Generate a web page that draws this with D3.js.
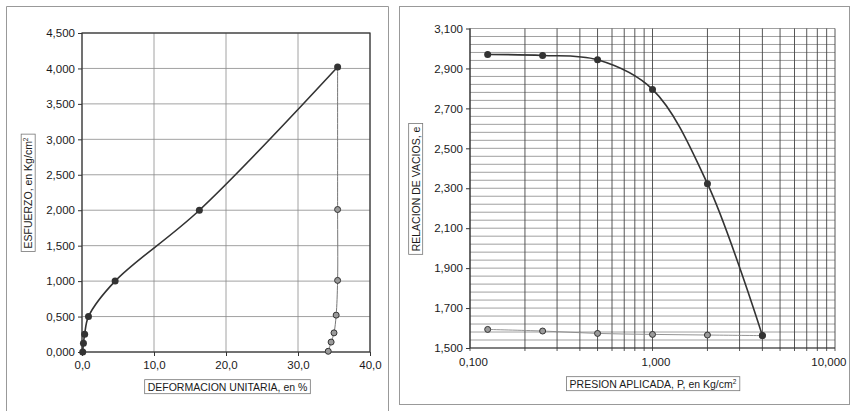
<!DOCTYPE html>
<html>
<head>
<meta charset="utf-8">
<script src="https://cdn.jsdelivr.net/npm/d3@7"></script>
<style>
  body { margin: 0; background: #fff; }
  svg { display: block; font-family: "Liberation Sans", Arial, sans-serif; }
  .tick text { fill: #1a1a1a; }
</style>
</head>
<body>
<svg id="chart" width="851" height="411"></svg>
<script>
/* ---------- datos: esfuerzo - deformacion ---------- */
var strainLoad   = [0.1, 0.2, 0.37, 0.9, 4.6, 16.3, 35.5];
var stressLoad   = [0.0, 0.125, 0.25, 0.5, 1.0, 2.0, 4.02];
var strainUnload = [35.5, 35.5, 35.5, 35.3, 35.0, 34.6, 34.2];
var stressUnload = [4.02, 2.01, 1.01, 0.52, 0.27, 0.14, 0.01];

/* ---------- datos: curva de compresibilidad ---------- */
var pressure   = [0.125, 0.25, 0.5, 1, 2, 4];
var voidLoad   = [2.970, 2.965, 2.943, 2.795, 2.323, 1.562];
var voidUnload = [1.593, 1.585, 1.573, 1.568, 1.565, 1.562];

/* ---------- ejes ---------- */
var leftYTicks  = [0, 0.5, 1, 1.5, 2, 2.5, 3, 3.5, 4, 4.5];
var leftXTicks  = [0, 10, 20, 30, 40];
var rightYTicks = [1.5, 1.7, 1.9, 2.1, 2.3, 2.5, 2.7, 2.9, 3.1];
var rightXTicks = [0.1, 1, 10];

var textColor = "#1a1a1a",
    lineColor = "#333",
    gridColor = "#8a8a8a",
    frameColor = "#999";

var locale = d3.formatLocale({decimal: ",", thousands: ".", grouping: [3], currency: ["", ""]});
var f3 = locale.format(".3f"), f1 = locale.format(".1f");

var svg = d3.select("#chart");

/* ---------- marcos ---------- */
svg.append("path")
    .attr("d", "M6.5,411 V6.5 H388.5 V411")
    .attr("fill", "none").attr("stroke", frameColor).attr("stroke-width", 1);
svg.append("rect")
    .attr("x", 399.5).attr("y", 6.5).attr("width", 450).attr("height", 398)
    .attr("fill", "none").attr("stroke", frameColor).attr("stroke-width", 1);

// titulo de eje dentro de un recuadro
function boxedLabel(parent, x, y, rotate, parts) {
    var g = parent.append("g")
        .attr("transform", "translate(" + x + "," + y + ")" + (rotate ? " rotate(-90)" : ""));
    var box = g.append("rect");
    var t = g.append("text")
        .attr("text-anchor", "middle")
        .attr("font-size", "10.5px")
        .attr("fill", textColor)
        .attr("dy", "0.35em");
    parts.forEach(function(p) {
        var s = t.append("tspan").text(p.text);
        if (p.sup) s.attr("font-size", "6.5px").attr("dy", "-0.6em");
    });
    var b = t.node().getBBox();
    box.attr("x", b.x - 3).attr("y", b.y - 1)
        .attr("width", b.width + 6).attr("height", b.height + 2)
        .attr("fill", "#fff").attr("stroke", "#777").attr("stroke-width", 0.8);
}

/* ---------- grafico izquierdo ---------- */
var L = {x0: 82, x1: 370, y0: 33, y1: 352};
var xL = d3.scaleLinear().domain([0, 40]).range([L.x0, L.x1]);
var yL = d3.scaleLinear().domain([0, 4.5]).range([L.y1, L.y0]);

var gl = svg.append("g");

gl.append("g").selectAll("line").data(leftXTicks).join("line")
    .attr("x1", function(d) { return xL(d); }).attr("x2", function(d) { return xL(d); })
    .attr("y1", L.y0).attr("y2", L.y1)
    .attr("stroke", gridColor).attr("stroke-width", 0.8);
gl.append("g").selectAll("line").data(leftYTicks).join("line")
    .attr("y1", function(d) { return yL(d); }).attr("y2", function(d) { return yL(d); })
    .attr("x1", L.x0).attr("x2", L.x1)
    .attr("stroke", gridColor).attr("stroke-width", 0.8);

gl.append("rect")
    .attr("x", L.x0).attr("y", L.y0).attr("width", L.x1 - L.x0).attr("height", L.y1 - L.y0)
    .attr("fill", "none").attr("stroke", lineColor).attr("stroke-width", 1.2);

gl.append("g")
    .attr("transform", "translate(" + L.x0 + ",0)")
    .call(d3.axisLeft(yL).tickValues(leftYTicks).tickFormat(f3).tickSize(4).tickPadding(3))
    .call(function(g) { g.select(".domain").remove(); })
    .call(function(g) { g.selectAll("text").attr("font-size", "11.5px"); })
    .call(function(g) { g.selectAll("line").attr("stroke", lineColor); });

gl.append("g")
    .attr("transform", "translate(0," + L.y1 + ")")
    .call(d3.axisBottom(xL).tickValues(leftXTicks).tickFormat(f1).tickSize(4).tickPadding(5))
    .call(function(g) { g.select(".domain").remove(); })
    .call(function(g) { g.selectAll("text").attr("font-size", "11.5px"); })
    .call(function(g) { g.selectAll("line").attr("stroke", lineColor); });

var smooth = d3.line().curve(d3.curveCatmullRom.alpha(0.5));

var loadL = strainLoad.map(function(d, i) { return [xL(d), yL(stressLoad[i])]; });
var unloadL = strainUnload.map(function(d, i) { return [xL(d), yL(stressUnload[i])]; });

gl.append("path").attr("d", smooth(unloadL))
    .attr("fill", "none").attr("stroke", "#777").attr("stroke-width", 1);
gl.append("path").attr("d", smooth(loadL))
    .attr("fill", "none").attr("stroke", lineColor).attr("stroke-width", 1.6);

gl.append("g").selectAll("circle").data(unloadL.slice(1)).join("circle")
    .attr("cx", function(d) { return d[0]; }).attr("cy", function(d) { return d[1]; })
    .attr("r", 3).attr("fill", "#9a9a9a").attr("stroke", "#333").attr("stroke-width", 1);
gl.append("g").selectAll("circle").data(loadL).join("circle")
    .attr("cx", function(d) { return d[0]; }).attr("cy", function(d) { return d[1]; })
    .attr("r", 3.5).attr("fill", lineColor);

boxedLabel(gl, 28.5, 193, true, [{text: "ESFUERZO, en Kg/cm"}, {text: "2", sup: true}]);
boxedLabel(gl, 227.5, 387, false, [{text: "DEFORMACION UNITARIA, en %"}]);

/* ---------- grafico derecho ---------- */
var R = {x0: 470, x1: 835, y0: 28.5, y1: 348};
var xR = d3.scaleLog().domain([0.1, 10]).range([R.x0, R.x1]);
var yR = d3.scaleLinear().domain([1.5, 3.1]).range([R.y1, R.y0]);

var gr = svg.append("g");

var minorY = d3.range(0, 41).map(function(i) { return 1.5 + i * 0.04; });
gr.append("g").selectAll("line").data(minorY).join("line")
    .attr("y1", function(d) { return yR(d); }).attr("y2", function(d) { return yR(d); })
    .attr("x1", R.x0).attr("x2", R.x1)
    .attr("stroke", "#777").attr("stroke-width", 0.7);
gr.append("g").selectAll("line").data(xR.ticks()).join("line")
    .attr("x1", function(d) { return xR(d); }).attr("x2", function(d) { return xR(d); })
    .attr("y1", R.y0).attr("y2", R.y1 + 3)
    .attr("stroke", "#444").attr("stroke-width", 0.9);

gr.append("path")
    .attr("d", "M" + R.x0 + "," + R.y0 + " V" + R.y1 + " H" + R.x1)
    .attr("fill", "none").attr("stroke", lineColor).attr("stroke-width", 1.1);

gr.append("g")
    .attr("transform", "translate(" + R.x0 + ",0)")
    .call(d3.axisLeft(yR).tickValues(rightYTicks).tickFormat(f3).tickSize(4).tickPadding(3))
    .call(function(g) { g.select(".domain").remove(); })
    .call(function(g) { g.selectAll("text").attr("font-size", "11.5px"); })
    .call(function(g) { g.selectAll("line").attr("stroke", lineColor); });

gr.append("g")
    .attr("transform", "translate(0," + R.y1 + ")")
    .call(d3.axisBottom(xR).tickValues(rightXTicks).tickFormat(f3).tickSize(0).tickPadding(10))
    .call(function(g) { g.select(".domain").remove(); })
    .call(function(g) {
        g.selectAll("text").attr("font-size", "11.5px")
            .attr("text-anchor", function(d) { return d === 10 ? "end" : "middle"; })
            .attr("dx", function(d) { return d === 10 ? 11 : 3; });
    });

var loadR = pressure.map(function(d, i) { return [xR(d), yR(voidLoad[i])]; });
var unloadR = pressure.map(function(d, i) { return [xR(d), yR(voidUnload[i])]; });

gr.append("path").attr("d", smooth(unloadR))
    .attr("fill", "none").attr("stroke", "#888").attr("stroke-width", 0.9);
gr.append("path").attr("d", smooth(loadR))
    .attr("fill", "none").attr("stroke", lineColor).attr("stroke-width", 1.6);

gr.append("g").selectAll("circle").data(unloadR).join("circle")
    .attr("cx", function(d) { return d[0]; }).attr("cy", function(d) { return d[1]; })
    .attr("r", 3).attr("fill", "#9a9a9a").attr("stroke", "#333").attr("stroke-width", 1);
gr.append("g").selectAll("circle").data(loadR).join("circle")
    .attr("cx", function(d) { return d[0]; }).attr("cy", function(d) { return d[1]; })
    .attr("r", 3.5).attr("fill", lineColor);

boxedLabel(gr, 416, 189, true, [{text: "RELACION DE VACIOS, e"}]);
boxedLabel(gr, 653, 384, false, [{text: "PRESION APLICADA, P, en Kg/cm"}, {text: "2", sup: true}]);
</script>
</body>
</html>
